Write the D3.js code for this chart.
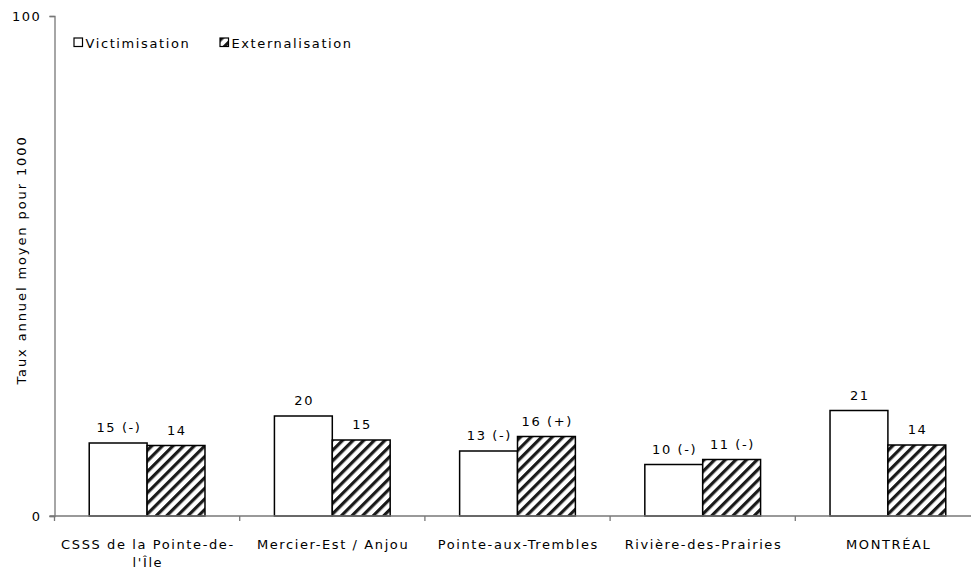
<!DOCTYPE html>
<html>
<head>
<meta charset="utf-8">
<script src="https://cdn.jsdelivr.net/npm/d3@7"></script>
<style>
  html, body { margin: 0; padding: 0; background: #fff; }
  svg text { font-family: "DejaVu Sans", Verdana, sans-serif; fill: #000; letter-spacing: 1.6px; }
</style>
</head>
<body>
<svg id="chart" width="971" height="571"></svg>
<script>
// Territories compared
const categories = [
  "CSSS de la Pointe-de-l'Île",
  "Mercier-Est / Anjou",
  "Pointe-aux-Trembles",
  "Rivière-des-Prairies",
  "MONTRÉAL"
];
const seriesNames = ["Victimisation", "Externalisation"];
// Mean annual rates per 1000
const victimisation   = [14.6, 20.0, 13.0, 10.3, 21.1];
const externalisation = [14.1, 15.2, 15.9, 11.3, 14.2];
// Significance flags shown next to each value
const victimisationFlags   = ["(-)", "", "(-)", "(-)", ""];
const externalisationFlags = ["", "", "(+)", "(-)", ""];
const yTicks = [0, 100];
const yTitle = "Taux annuel moyen pour 1000";

const svg = d3.select("#chart");
const margin = { left: 54.5, top: 16, bottom: 516, right: 980.5 };

const x = d3.scaleBand().domain(categories).range([margin.left, margin.right]).padding(0);
const xs = d3.scaleBand().domain(seriesNames).range([0, x.bandwidth()]).paddingInner(0).paddingOuter(0.6);
const y = d3.scaleLinear().domain([0, 100]).range([margin.bottom, margin.top]);

// Diagonal hatch for the second series
const defs = svg.append("defs");
const pat = defs.append("pattern")
  .attr("id", "hatch")
  .attr("patternUnits", "userSpaceOnUse")
  .attr("width", 7.5).attr("height", 7.5)
  .attr("patternTransform", "rotate(45)");
pat.append("rect").attr("width", 7.5).attr("height", 7.5).attr("fill", "#fff");
pat.append("rect").attr("x", 0).attr("y", 0).attr("width", 3.2).attr("height", 7.5).attr("fill", "#1a1a1a");

const rows = categories.map((c, i) => ({
  cat: c,
  items: [
    { s: seriesNames[0], v: victimisation[i], flag: victimisationFlags[i] },
    { s: seriesNames[1], v: externalisation[i], flag: externalisationFlags[i] }
  ]
}));

const fills = { "Victimisation": "#fff", "Externalisation": "url(#hatch)" };

// Bars
const groups = svg.append("g").selectAll("g").data(rows).join("g")
  .attr("transform", d => `translate(${x(d.cat)},0)`);

groups.selectAll("rect").data(d => d.items).join("rect")
  .attr("x", d => xs(d.s))
  .attr("y", d => y(d.v))
  .attr("width", xs.bandwidth())
  .attr("height", d => y(0) - y(d.v))
  .attr("fill", d => fills[d.s])
  .attr("stroke", "#000")
  .attr("stroke-width", 1.5);

// Value labels
groups.selectAll("text.val").data(d => d.items).join("text")
  .attr("class", "val")
  .attr("x", d => xs(d.s) + xs.bandwidth() / 2 + 0.8)
  .attr("y", d => y(d.v) - 11)
  .attr("text-anchor", "middle")
  .attr("font-size", 13)
  .text(d => Math.round(d.v) + (d.flag ? " " + d.flag : ""));

// Y axis
const yAxis = svg.append("g")
  .attr("transform", `translate(${margin.left},0)`)
  .call(d3.axisLeft(y).tickValues(yTicks).tickSize(5).tickPadding(8).tickFormat(d3.format("d")));
yAxis.select(".domain").attr("stroke", "#777").attr("stroke-width", 1.3);
yAxis.selectAll(".tick line").attr("stroke", "#777").attr("stroke-width", 1.3);
yAxis.selectAll("text").attr("font-size", 13).style("font-family", "DejaVu Sans, Verdana, sans-serif");

// X axis: baseline with ticks between categories
const xAxisG = svg.append("g");
xAxisG.append("line")
  .attr("x1", margin.left - 5).attr("x2", margin.right)
  .attr("y1", y(0)).attr("y2", y(0))
  .attr("stroke", "#777").attr("stroke-width", 1.3);
xAxisG.selectAll("line.tk").data(categories).join("line")
  .attr("class", "tk")
  .attr("x1", d => x(d)).attr("x2", d => x(d))
  .attr("y1", y(0)).attr("y2", y(0) + 5)
  .attr("stroke", "#777").attr("stroke-width", 1.3);

// Category labels, wrapped to the band width
const catLabels = xAxisG.selectAll("text.cat").data(categories).join("text")
  .attr("class", "cat")
  .attr("text-anchor", "middle")
  .attr("font-size", 13)
  .attr("x", d => x(d) + x.bandwidth() / 2 + 0.8)
  .attr("y", 549);

catLabels.each(function (d) {
  const t = d3.select(this);
  const parts = d.split(/(?<=[ -])/);
  const maxW = x.bandwidth() - 6;
  const lines = [];
  let cur = "";
  const probe = t.append("tspan");
  parts.forEach(p => {
    probe.text(cur + p);
    if (cur && probe.node().getComputedTextLength() > maxW) {
      lines.push(cur);
      cur = p;
    } else {
      cur += p;
    }
  });
  lines.push(cur);
  probe.remove();
  lines.forEach((ln, i) => {
    t.append("tspan")
      .attr("x", x(d) + x.bandwidth() / 2 + 0.8)
      .attr("dy", i === 0 ? 0 : 18)
      .text(ln.trim());
  });
});

// Y axis title
svg.append("text")
  .attr("transform", `translate(26,${(margin.top + margin.bottom) / 2 - 6}) rotate(-90)`)
  .attr("text-anchor", "middle")
  .attr("font-size", 13)
  .style("letter-spacing", "1.9px")
  .text(yTitle);

// Legend
const legendPos = [74, 220];
const legend = svg.append("g").selectAll("g").data(seriesNames).join("g")
  .attr("transform", (d, i) => `translate(${legendPos[i]},38)`);
legend.append("rect")
  .attr("width", 8.5).attr("height", 8.5)
  .attr("fill", d => d === "Victimisation" ? "#fff" : "url(#hatch)")
  .attr("stroke", "#000").attr("stroke-width", 1.2);
legend.append("text")
  .attr("x", 11.5).attr("y", 9.5)
  .attr("font-size", 13)
  .text(d => d);
</script>
</body>
</html>
